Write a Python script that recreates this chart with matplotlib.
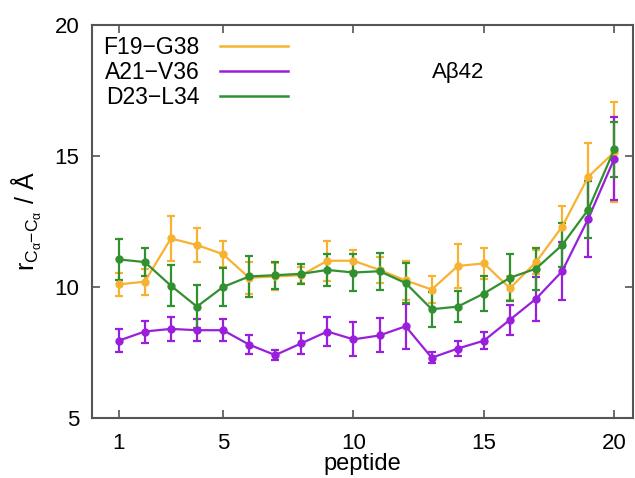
import numpy as np
import matplotlib
matplotlib.use("Agg")
import matplotlib.pyplot as plt
from matplotlib.lines import Line2D

plt.rcParams['font.family'] = ['Liberation Sans', 'DejaVu Sans']
plt.rcParams['mathtext.fontset'] = 'custom'
plt.rcParams['mathtext.rm'] = 'Liberation Sans'
plt.rcParams['mathtext.it'] = 'Liberation Sans'

# peptide index
peptide = np.arange(1, 21)

# F19-G38
f19_y = [10.1, 10.2, 11.85, 11.6, 11.25, 10.35, 10.4, 10.45, 11.0, 11.0,
         10.65, 10.25, 9.9, 10.8, 10.9, 9.95, 10.95, 12.3, 14.2, 15.15]
f19_err = [0.45, 0.5, 0.85, 0.65, 0.5, 0.6, 0.5, 0.3, 0.77, 0.4,
           0.5, 0.75, 0.5, 0.85, 0.6, 0.45, 0.45, 0.78, 1.3, 1.9]

# A21-V36
a21_y = [7.95, 8.3, 8.4, 8.35, 8.35, 7.8, 7.4, 7.85, 8.3, 8.0,
         8.15, 8.5, 7.3, 7.65, 7.95, 8.75, 9.55, 10.6, 12.6, 14.9]
a21_err = [0.43, 0.42, 0.46, 0.42, 0.42, 0.35, 0.18, 0.4, 0.57, 0.65,
           0.65, 0.86, 0.22, 0.28, 0.33, 0.57, 0.83, 1.1, 1.45, 1.6]

# D23-L34
d23_y = [11.05, 10.95, 10.05, 9.25, 10.0, 10.4, 10.45, 10.5, 10.65, 10.55,
         10.6, 10.15, 9.15, 9.25, 9.75, 10.35, 10.7, 11.6, 12.95, 15.25]
d23_err = [0.77, 0.52, 0.77, 0.82, 0.74, 0.8, 0.52, 0.37, 0.62, 0.7,
           0.7, 0.76, 0.67, 0.6, 0.67, 0.9, 0.8, 0.85, 1.1, 1.05]

labels = ["F19\u2212G38", "A21\u2212V36", "D23\u2212L34"]
colors = ["#f7b232", "#9a1fdc", "#31902f"]

fig = plt.figure(figsize=(6.35, 4.78), dpi=100)
ax = fig.add_axes([0.145, 0.1255, 0.852, 0.8225])

for y, e, c in zip([f19_y, a21_y, d23_y], [f19_err, a21_err, d23_err], colors):
    ax.errorbar(peptide, y, yerr=e, color=c, marker='o', markersize=5,
                linewidth=1.6, elinewidth=1.6, capsize=3, capthick=1.6)

ax.set_xlim(-0.02, 20.72)
ax.set_ylim(5, 20)
ax.set_xticks([1, 5, 10, 15, 20])
ax.set_yticks([5, 10, 15, 20])
ax.tick_params(direction='in', top=True, right=True, labelsize=16,
               color='#555555', length=6, width=1.2, pad=9)
ax.tick_params(axis='x', pad=11)
for s in ax.spines.values():
    s.set_color('#555555')
    s.set_linewidth(1.5)

ax.set_xlabel('peptide', fontsize=17, labelpad=-1)
ax.set_ylabel(r'r$_{\mathregular{C_\alpha}\mathregular{-C_\alpha}}$ / Å', fontsize=18, labelpad=8)

ax.text(0.628, 0.865, 'A\u03b242', transform=ax.transAxes, fontsize=16)

handles = [Line2D([], [], color=c, linewidth=1.8) for c in colors]
ax.legend(handles, labels, loc='upper left', frameon=False, markerfirst=False,
          fontsize=16.5, handlelength=2.95, labelspacing=0.08, handletextpad=0.9,
          borderaxespad=0.1, bbox_to_anchor=(0.0, 1.0))

fig.savefig('out.png')
